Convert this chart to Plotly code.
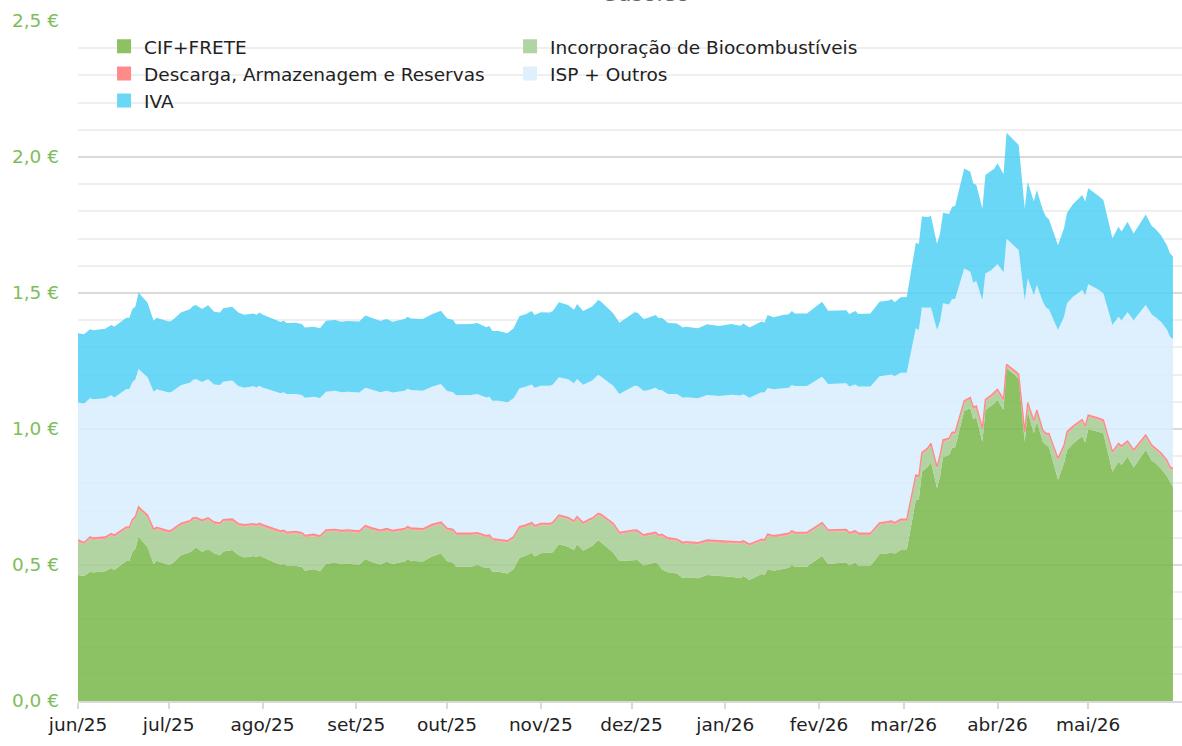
import plotly.graph_objects as go

dates = [
    "2025-06-01", "2025-06-03", "2025-06-05", "2025-06-06", "2025-06-10", "2025-06-12", "2025-06-13", "2025-06-17",
    "2025-06-18", "2025-06-19", "2025-06-20", "2025-06-21", "2025-06-24", "2025-06-26", "2025-06-27",
    "2025-07-01", "2025-07-02", "2025-07-05", "2025-07-08", "2025-07-09", "2025-07-10", "2025-07-12", "2025-07-14",
    "2025-07-16", "2025-07-18", "2025-07-19", "2025-07-22", "2025-07-24", "2025-07-26", "2025-07-29", "2025-07-30", "2025-07-31",
    "2025-08-01", "2025-08-05", "2025-08-07", "2025-08-08", "2025-08-09", "2025-08-12", "2025-08-14", "2025-08-15",
    "2025-08-18", "2025-08-20", "2025-08-22", "2025-08-25", "2025-08-27", "2025-08-29",
    "2025-09-02", "2025-09-04", "2025-09-06", "2025-09-09", "2025-09-11", "2025-09-13", "2025-09-17", "2025-09-18",
    "2025-09-19", "2025-09-23", "2025-09-26", "2025-09-29",
    "2025-10-01", "2025-10-03", "2025-10-04", "2025-10-09", "2025-10-11", "2025-10-14", "2025-10-15", "2025-10-16",
    "2025-10-18", "2025-10-21", "2025-10-23", "2025-10-25", "2025-10-27", "2025-10-29", "2025-10-30",
    "2025-11-01", "2025-11-04", "2025-11-05", "2025-11-07", "2025-11-10", "2025-11-12", "2025-11-13", "2025-11-15",
    "2025-11-17", "2025-11-18", "2025-11-20", "2025-11-21", "2025-11-25", "2025-11-27",
    "2025-12-02", "2025-12-03", "2025-12-05", "2025-12-06", "2025-12-09", "2025-12-10", "2025-12-11", "2025-12-13",
    "2025-12-16", "2025-12-18", "2025-12-19", "2025-12-23", "2025-12-26", "2025-12-30",
    "2026-01-03", "2026-01-06", "2026-01-07", "2026-01-09", "2026-01-13", "2026-01-14", "2026-01-15", "2026-01-17",
    "2026-01-20", "2026-01-22", "2026-01-23", "2026-01-24", "2026-01-28", "2026-01-31",
    "2026-02-02", "2026-02-04", "2026-02-10", "2026-02-11", "2026-02-13", "2026-02-14", "2026-02-18", "2026-02-21",
    "2026-02-24", "2026-02-25", "2026-02-26", "2026-02-28",
    "2026-03-02", "2026-03-05", "2026-03-06", "2026-03-07", "2026-03-09", "2026-03-10", "2026-03-12", "2026-03-13",
    "2026-03-14", "2026-03-16", "2026-03-17", "2026-03-18", "2026-03-21", "2026-03-23", "2026-03-24", "2026-03-25",
    "2026-03-27", "2026-03-28", "2026-03-30", "2026-03-31",
    "2026-04-01", "2026-04-03", "2026-04-04", "2026-04-08", "2026-04-10", "2026-04-11", "2026-04-13", "2026-04-14",
    "2026-04-16", "2026-04-17", "2026-04-18", "2026-04-21", "2026-04-23", "2026-04-24", "2026-04-26", "2026-04-29", "2026-04-30",
    "2026-05-01", "2026-05-04", "2026-05-06", "2026-05-09", "2026-05-11", "2026-05-12", "2026-05-14", "2026-05-16",
    "2026-05-20", "2026-05-22", "2026-05-23", "2026-05-25", "2026-05-27", "2026-05-28", "2026-05-29",
]

cif_frete = [
    0.463, 0.460, 0.475, 0.472, 0.477, 0.489, 0.482, 0.515, 0.515, 0.549, 0.561, 0.604, 0.565, 0.504, 0.516,
    0.500, 0.504, 0.536, 0.547, 0.555, 0.564, 0.549, 0.559, 0.543, 0.536, 0.550, 0.555, 0.537, 0.528, 0.533, 0.529, 0.534,
    0.529, 0.512, 0.500, 0.505, 0.496, 0.496, 0.494, 0.479, 0.484, 0.477, 0.504, 0.509, 0.503, 0.505,
    0.501, 0.522, 0.512, 0.501, 0.513, 0.504, 0.513, 0.522, 0.516, 0.513, 0.531, 0.542,
    0.515, 0.508, 0.494, 0.494, 0.500, 0.488, 0.492, 0.475, 0.475, 0.469, 0.484, 0.527, 0.534, 0.545, 0.531,
    0.543, 0.545, 0.547, 0.576, 0.567, 0.555, 0.576, 0.553, 0.565, 0.570, 0.592, 0.582, 0.545, 0.515,
    0.518, 0.518, 0.498, 0.501, 0.510, 0.500, 0.484, 0.473, 0.469, 0.451, 0.455, 0.451, 0.463, 0.460,
    0.457, 0.451, 0.460, 0.445, 0.467, 0.463, 0.485, 0.479, 0.484, 0.490, 0.500, 0.494, 0.494, 0.518,
    0.534, 0.504, 0.510, 0.498, 0.509, 0.496, 0.496, 0.540, 0.543, 0.547, 0.541, 0.555,
    0.555, 0.739, 0.741, 0.843, 0.861, 0.880, 0.782, 0.825, 0.896, 0.904, 0.931, 0.933, 1.066, 1.076, 1.036, 1.043,
    0.953, 1.070, 1.085, 1.095,
    1.107, 1.070, 1.223, 1.186, 0.953, 1.064, 0.984, 1.027, 0.953, 0.941, 0.935, 0.813, 0.874, 0.923, 0.947, 0.974, 0.950,
    0.999, 0.991, 0.984, 0.843, 0.880, 0.868, 0.898, 0.858, 0.923, 0.883, 0.877, 0.855, 0.827, 0.806, 0.786,
]

biocombustiveis = [
    0.122, 0.116, 0.122, 0.120, 0.119, 0.120, 0.121, 0.118, 0.118, 0.112, 0.110, 0.103, 0.111, 0.121, 0.116,
    0.118, 0.118, 0.110, 0.109, 0.111, 0.104, 0.109, 0.108, 0.108, 0.112, 0.110, 0.107, 0.108, 0.113, 0.112, 0.112, 0.112,
    0.112, 0.115, 0.118, 0.116, 0.118, 0.120, 0.118, 0.123, 0.122, 0.123, 0.118, 0.115, 0.117, 0.117,
    0.117, 0.116, 0.118, 0.120, 0.114, 0.116, 0.114, 0.112, 0.113, 0.113, 0.111, 0.109,
    0.113, 0.116, 0.116, 0.116, 0.112, 0.113, 0.111, 0.115, 0.112, 0.113, 0.113, 0.107, 0.106, 0.104, 0.107,
    0.103, 0.101, 0.103, 0.101, 0.101, 0.100, 0.095, 0.096, 0.097, 0.095, 0.091, 0.097, 0.101, 0.098,
    0.104, 0.102, 0.105, 0.106, 0.103, 0.103, 0.122, 0.120, 0.119, 0.125, 0.124, 0.124, 0.122, 0.122,
    0.124, 0.127, 0.122, 0.125, 0.121, 0.122, 0.122, 0.122, 0.122, 0.120, 0.119, 0.120, 0.119, 0.118,
    0.115, 0.118, 0.114, 0.114, 0.110, 0.114, 0.114, 0.108, 0.110, 0.108, 0.108, 0.106,
    0.106, 0.085, 0.079, 0.063, 0.063, 0.060, 0.072, 0.072, 0.057, 0.055, 0.050, 0.048, 0.031, 0.033, 0.037, 0.035,
    0.043, 0.032, 0.033, 0.033,
    0.032, 0.032, 0.008, 0.009, 0.030, 0.026, 0.040, 0.036, 0.035, 0.036, 0.042, 0.072, 0.060, 0.060, 0.057, 0.054, 0.054,
    0.045, 0.044, 0.042, 0.067, 0.060, 0.063, 0.051, 0.058, 0.048, 0.051, 0.048, 0.051, 0.052, 0.048, 0.062,
]

descarga = [
    0.007, 0.007, 0.007, 0.007, 0.007, 0.007, 0.007, 0.007, 0.007, 0.007, 0.007, 0.007, 0.007, 0.007, 0.007,
    0.007, 0.007, 0.007, 0.007, 0.007, 0.007, 0.007, 0.007, 0.007, 0.007, 0.007, 0.007, 0.007, 0.007, 0.007, 0.007, 0.007,
    0.007, 0.007, 0.007, 0.007, 0.007, 0.007, 0.007, 0.007, 0.007, 0.007, 0.007, 0.007, 0.007, 0.007,
    0.007, 0.007, 0.007, 0.007, 0.007, 0.007, 0.007, 0.007, 0.007, 0.007, 0.007, 0.007,
    0.007, 0.007, 0.007, 0.007, 0.007, 0.007, 0.007, 0.007, 0.007, 0.007, 0.007, 0.007, 0.007, 0.007, 0.007,
    0.007, 0.007, 0.007, 0.007, 0.007, 0.007, 0.007, 0.007, 0.007, 0.007, 0.007, 0.007, 0.007, 0.007,
    0.007, 0.007, 0.007, 0.007, 0.007, 0.007, 0.007, 0.007, 0.007, 0.007, 0.007, 0.007, 0.007, 0.007,
    0.007, 0.007, 0.007, 0.007, 0.007, 0.007, 0.007, 0.007, 0.007, 0.007, 0.007, 0.007, 0.007, 0.007,
    0.007, 0.007, 0.007, 0.007, 0.007, 0.007, 0.007, 0.007, 0.007, 0.007, 0.007, 0.007,
    0.007, 0.007, 0.007, 0.007, 0.007, 0.007, 0.007, 0.007, 0.007, 0.007, 0.007, 0.007, 0.007, 0.007, 0.007, 0.007,
    0.007, 0.007, 0.007, 0.007,
    0.007, 0.007, 0.007, 0.007, 0.007, 0.007, 0.007, 0.007, 0.007, 0.007, 0.007, 0.007, 0.007, 0.007, 0.007, 0.007, 0.007,
    0.007, 0.007, 0.007, 0.007, 0.007, 0.007, 0.007, 0.007, 0.007, 0.007, 0.007, 0.007, 0.007, 0.007, 0.007,
]

isp_outros = [
    0.505, 0.511, 0.509, 0.510, 0.510, 0.508, 0.506, 0.507, 0.507, 0.505, 0.505, 0.507, 0.507, 0.505, 0.507,
    0.509, 0.508, 0.508, 0.507, 0.507, 0.509, 0.508, 0.509, 0.506, 0.507, 0.507, 0.509, 0.506, 0.504, 0.505, 0.505, 0.506,
    0.505, 0.506, 0.506, 0.507, 0.508, 0.506, 0.506, 0.506, 0.506, 0.507, 0.508, 0.510, 0.508, 0.508,
    0.509, 0.507, 0.509, 0.507, 0.507, 0.507, 0.507, 0.507, 0.507, 0.508, 0.506, 0.507,
    0.505, 0.504, 0.507, 0.508, 0.510, 0.508, 0.509, 0.507, 0.510, 0.509, 0.509, 0.509, 0.508, 0.508, 0.507,
    0.506, 0.506, 0.507, 0.506, 0.508, 0.506, 0.506, 0.507, 0.505, 0.506, 0.509, 0.506, 0.505, 0.509,
    0.530, 0.531, 0.531, 0.528, 0.532, 0.533, 0.530, 0.529, 0.534, 0.532, 0.531, 0.531, 0.533, 0.532,
    0.538, 0.538, 0.539, 0.538, 0.540, 0.542, 0.537, 0.538, 0.537, 0.535, 0.536, 0.537, 0.538, 0.537,
    0.536, 0.536, 0.537, 0.537, 0.538, 0.539, 0.539, 0.539, 0.537, 0.538, 0.539, 0.539,
    0.539, 0.539, 0.537, 0.534, 0.515, 0.500, 0.503, 0.491, 0.502, 0.492, 0.490, 0.490, 0.486, 0.462, 0.458, 0.459,
    0.471, 0.463, 0.460, 0.460,
    0.461, 0.467, 0.461, 0.456, 0.482, 0.457, 0.462, 0.459, 0.473, 0.464, 0.456, 0.472, 0.472, 0.472, 0.475, 0.476, 0.482,
    0.481, 0.473, 0.466, 0.465, 0.466, 0.462, 0.473, 0.477, 0.478, 0.480, 0.481, 0.482, 0.480, 0.479, 0.475,
]

iva = [
    0.255, 0.254, 0.254, 0.254, 0.256, 0.258, 0.260, 0.262, 0.262, 0.268, 0.267, 0.281, 0.274, 0.261, 0.263,
    0.261, 0.261, 0.267, 0.270, 0.272, 0.272, 0.268, 0.272, 0.267, 0.266, 0.270, 0.271, 0.270, 0.268, 0.268, 0.267, 0.269,
    0.268, 0.264, 0.262, 0.263, 0.261, 0.262, 0.261, 0.258, 0.257, 0.256, 0.261, 0.260, 0.259, 0.260,
    0.261, 0.265, 0.262, 0.262, 0.263, 0.260, 0.263, 0.265, 0.263, 0.263, 0.267, 0.270,
    0.267, 0.266, 0.261, 0.261, 0.261, 0.258, 0.260, 0.256, 0.256, 0.254, 0.257, 0.265, 0.267, 0.270, 0.267,
    0.270, 0.269, 0.270, 0.276, 0.273, 0.270, 0.276, 0.271, 0.272, 0.272, 0.275, 0.276, 0.267, 0.262,
    0.270, 0.269, 0.263, 0.265, 0.267, 0.264, 0.266, 0.262, 0.259, 0.258, 0.259, 0.257, 0.260, 0.258,
    0.260, 0.257, 0.260, 0.258, 0.260, 0.258, 0.268, 0.265, 0.269, 0.270, 0.272, 0.267, 0.267, 0.272,
    0.276, 0.270, 0.269, 0.267, 0.270, 0.267, 0.269, 0.274, 0.275, 0.277, 0.271, 0.277,
    0.278, 0.315, 0.316, 0.334, 0.333, 0.336, 0.316, 0.324, 0.333, 0.332, 0.339, 0.342, 0.368, 0.368, 0.365, 0.353,
    0.337, 0.362, 0.365, 0.363,
    0.370, 0.361, 0.390, 0.386, 0.339, 0.355, 0.343, 0.350, 0.337, 0.333, 0.331, 0.312, 0.325, 0.333, 0.341, 0.349, 0.343,
    0.353, 0.345, 0.343, 0.319, 0.331, 0.326, 0.333, 0.319, 0.333, 0.325, 0.325, 0.318, 0.310, 0.306, 0.304,
]

series_names = [
    "CIF+FRETE",
    "Incorporação de Biocombustíveis",
    "Descarga, Armazenagem e Reservas",
    "ISP + Outros",
    "IVA",
]
month_ticks = [
    "2025-06-01", "2025-07-01", "2025-08-01", "2025-09-01", "2025-10-01", "2025-11-01",
    "2025-12-01", "2026-01-01", "2026-02-01", "2026-03-01", "2026-04-01", "2026-05-01",
]
month_labels = [
    "jun/25", "jul/25", "ago/25", "set/25", "out/25", "nov/25",
    "dez/25", "jan/26", "fev/26", "mar/26", "abr/26", "mai/26",
]
y_ticks = [0, 0.5, 1.0, 1.5, 2.0, 2.5]
y_labels = ["0,0 €", "0,5 €", "1,0 €", "1,5 €", "2,0 €", "2,5 €"]
title_text = "Gasóleo"

fill_colors = [
    "rgba(120,182,73,0.85)",
    "rgba(164,204,147,0.85)",
    "rgba(255,138,138,0.85)",
    "rgba(216,237,253,0.85)",
    "rgba(80,208,244,0.85)",
]
legend_colors = ["#8CC164", "#B2D4A3", "#FF8A8A", "#DEF0FD", "#6AD7F6"]

FONT = "DejaVu Sans"
values = [cif_frete, biocombustiveis, descarga, isp_outros, iva]

fig = go.Figure()
for i, (name, vals, fc) in enumerate(zip(series_names, values, fill_colors)):
    line = dict(width=1.4, color="#FF8A8A") if i == 2 else dict(width=0)
    fig.add_trace(go.Scatter(
        x=dates, y=vals, name=name, stackgroup="one", mode="lines",
        line=line, fillcolor=fc, showlegend=False, hoverinfo="x+y+name",
    ))

for name, lc in zip(series_names, legend_colors):
    fig.add_trace(go.Scatter(
        x=[None], y=[None], name=name, mode="markers",
        marker=dict(symbol="square", size=14, color=lc), showlegend=True,
    ))

fig.add_annotation(
    text=title_text, xref="paper", yref="paper", x=0.514, y=1.0,
    xanchor="center", yanchor="bottom", yshift=13, showarrow=False,
    font=dict(family=FONT, size=22, color="#666666"),
)

fig.update_layout(
    width=1182, height=746,
    margin=dict(l=78, r=0, t=21, b=45),
    paper_bgcolor="white", plot_bgcolor="white",
    font=dict(family=FONT, size=18.5, color="#222222"),
    showlegend=True,
    legend=dict(
        orientation="h", x=0.0236, xanchor="left", y=0.99, yanchor="top",
        font=dict(family=FONT, size=18.5, color="#222222"),
        entrywidth=361, entrywidthmode="pixels", bgcolor="rgba(0,0,0,0)",
        itemwidth=30, traceorder="normal",
    ),
    xaxis=dict(
        type="date", range=["2025-06-01", "2026-06-01"],
        tickmode="array", tickvals=month_ticks, ticktext=month_labels,
        showgrid=False, showline=True, linecolor="#D9D9D9", linewidth=2,
        ticks="outside", ticklen=6, tickwidth=2, tickcolor="#D9D9D9",
        tickfont=dict(family=FONT, size=18.5, color="#222222"),
        zeroline=False,
    ),
    yaxis=dict(
        range=[0, 2.5], tickmode="array", tickvals=y_ticks, ticktext=y_labels,
        showgrid=True, gridcolor="#DADADA", gridwidth=2, zeroline=False, showline=False,
        tickfont=dict(family=FONT, size=18.5, color="#7DBE5A"),
        ticklabelstandoff=18,
        minor=dict(dtick=0.1, tick0=0, showgrid=True, gridcolor="#EFEFEF", gridwidth=2),
    ),
)

fig.write_html(
    "out.html",
    config={"displayModeBar": False},
    post_script="document.body.style.margin='0';document.body.style.overflow='hidden';",
)
